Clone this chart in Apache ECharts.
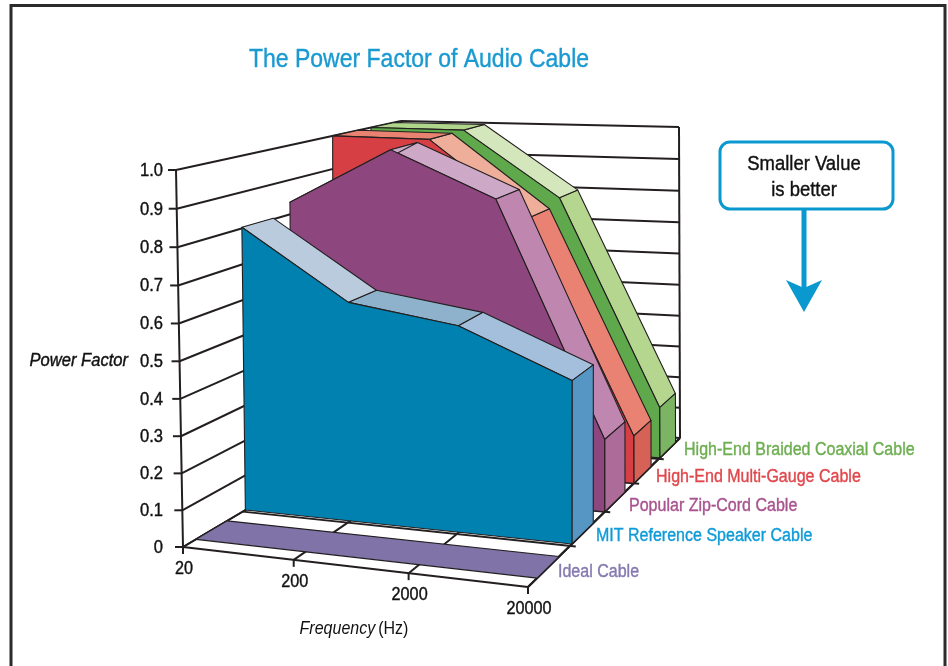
<!DOCTYPE html>
<html>
<head>
<meta charset="utf-8">
<style>html,body{margin:0;padding:0;background:#fff}#main{width:948px;height:666px}</style>
<script src="https://cdn.jsdelivr.net/npm/echarts@6/dist/echarts.min.js"></script>
</head>
<body>
<div id="main"></div>
<script>
var frequencies = ["20", "200", "2000", "20000"];
var valueTicks = ["0", "0.1", "0.2", "0.3", "0.4", "0.5", "0.6", "0.7", "0.8", "0.9", "1.0"];
var cableNames = ["Ideal Cable", "MIT Reference Speaker Cable", "Popular Zip-Cord Cable", "High-End Multi-Gauge Cable", "High-End Braided Coaxial Cable"];
var idealCable = [0, 0, 0, 0];
var mitCable = [0.803, 0.615, 0.573, 0.448];
var zipCordCable = [0.835, 1.0, 0.875, 0.21];
var multiGaugeCable = [1.0, 1.0, 0.78, 0.144];
var braidedCable = [1.0, 1.0, 0.8, 0.16];
var cableValues = [idealCable, mitCable, zipCordCable, multiGaugeCable, braidedCable];

// colours and placing of every slab, same order as cableNames
var labelColors = ["#8579B0", "#0F9BD7", "#A8538F", "#E0474C", "#6DAE51"];
var labelPos = [[558, 572], [596, 536], [629, 506], [656, 477], [684, 450]];
var slabDepth = [[0.2, 0.72], [1.05, 1.65], [2, 2.68], [3, 3.68], [4.05, 4.78]];
var faceColors = ["#7F73A8", "#0081B0", "#8E477E", "#D64045", "#5FA84B"];
var sideColors = ["#7F73A8", "#5696C4", "#AC6B98", "#D56157", "#7BB564"];
var topColors = [
	["#7F73A8", "#7F73A8", "#7F73A8"],
	["#B9CBDD", "#8FB2CC", "#A3BFDB"],
	["#CDA9C7", "#CDA9C7", "#BF86B0"],
	["#E98271", "#EEAE9A", "#E98272"],
	["#AFD68A", "#D4E6BC", "#B5D68F"]
];

var INK = "#231F20";
var FONT = "'Liberation Sans', sans-serif";

// corners of the 3D box on the page (floor / top, front / back)
var floorFL = [183, 547], floorFR = [528, 587], floorBL = [399, 419], floorBR = [680, 438];
var topFL = [176, 170], topFR = [529, 192], topBL = [401, 121], topBR = [679, 127];

function lerp(a, b, t) {
	return [a[0] + (b[0] - a[0]) * t, a[1] + (b[1] - a[1]) * t];
}
// frequency index 0..3, depth 0..5 (one unit per cable), value 0..1
function project(f, d, z) {
	var t = f / 3;
	var u = t * 0.945 / (1 - 0.055 * t);
	var v = d * 0.3055 / (1 + 0.1055 * d);
	var low = lerp(lerp(floorFL, floorFR, u), lerp(floorBL, floorBR, u), v);
	var high = lerp(lerp(topFL, topFR, u), lerp(topBL, topBR, u), v);
	return lerp(low, high, z / (1 + 0.03 * (1 - z)));
}
function line(a, b, w) {
	return {type: "line", shape: {x1: a[0], y1: a[1], x2: b[0], y2: b[1]}, style: {stroke: INK, lineWidth: w || 2}};
}
function poly(pts, fill) {
	return {type: "polygon", shape: {points: pts}, style: {fill: fill, stroke: INK, lineWidth: 1.1, lineJoin: "round"}};
}
// condensed look: the fonts here are wider than the original, so squeeze them
function label(x, y, text, size, squeeze, color, align, italic) {
	return {type: "text", x: x, y: y, scaleX: squeeze, style: {
		x: 0, y: 0, text: text, fill: color || "#111", stroke: color || "#111", lineWidth: 0.4,
		fontSize: size, fontStyle: italic ? "italic" : "normal", fontFamily: FONT,
		align: align || "center", verticalAlign: "middle"
	}};
}

// walls, floor grid, ticks
function renderValueTick(params, api) {
	var i = api.value(0), z = i / 10;
	var a = project(0, 0, z), b = project(0, 5, z), c = project(3, 5, z);
	return {type: "group", children: [
		line(a, b), line(b, c),
		line([a[0] - 8, a[1]], a, 2),
		label(163, a[1] + 1, valueTicks[i], 18, 0.92, "#111", "right")
	]};
}
function renderFreqTick(params, api) {
	var i = api.value(0);
	var a = project(i, 0, 0), b = project(i, 5, 0);
	return {type: "group", children: [
		line(a, b), line(a, [a[0], a[1] + 7]),
		label(a[0] + 1, a[1] + 22, frequencies[i], 18, 0.9)
	]};
}
function renderDepthTick(params, api) {
	var d = api.value(0);
	return line(project(0, d, 0), project(3.05, d, 0));
}
function renderFrame() {
	return {type: "group", children: [
		line(project(0, 0, 0), project(0, 0, 1), 2),
		line(project(0, 5, 0), project(0, 5, 1)),
		line(project(3, 5, 0), project(3, 5, 1), 2),
		line(project(3, 0, 0), project(3, 5, 0), 2),
		line(project(0, 0, 0), project(3, 0, 0), 2)
	]};
}

function renderSlab(params, api) {
	var c = api.value(0);
	var vals = cableValues[c];
	var d0 = slabDepth[c][0], d1 = slabDepth[c][1];
	var kids = [];
	if (c == 0) {
		kids.push(poly([project(0, d0, vals[0]), project(3, d0, vals[3]), project(3, d1, vals[3]), project(0, d1, vals[0])], faceColors[c]));
	} else {
		for (var i = 2; i >= 0; i--) {
			kids.push(poly([project(i, d0, vals[i]), project(i + 1, d0, vals[i + 1]), project(i + 1, d1, vals[i + 1]), project(i, d1, vals[i])], topColors[c][i]));
		}
		kids.push(poly([project(3, d0, vals[3]), project(3, d1, vals[3]), project(3, d1, 0), project(3, d0, 0)], sideColors[c]));
		var front = [project(0, d0, 0)];
		for (var j = 0; j < 4; j++) front.push(project(j, d0, vals[j]));
		front.push(project(3, d0, 0));
		kids.push(poly(front, faceColors[c]));
	}
	kids.push(label(labelPos[c][0], labelPos[c][1], cableNames[c], 18, 0.89, labelColors[c], "left"));
	return {type: "group", children: kids};
}

var series = [
	{type: "custom", coordinateSystem: "none", renderItem: renderValueTick, data: valueTicks.map(function (t, i) { return [i]; })},
	{type: "custom", coordinateSystem: "none", renderItem: renderFreqTick, data: frequencies.map(function (t, i) { return [i]; })},
	{type: "custom", coordinateSystem: "none", renderItem: renderDepthTick, data: [[1], [2], [3], [4]]},
	{type: "custom", coordinateSystem: "none", renderItem: renderFrame, data: [[0]]}
];
for (var c = 4; c >= 0; c--) {
	series.push({name: cableNames[c], type: "custom", coordinateSystem: "none", renderItem: renderSlab, data: [[c]]});
}

var myChart = echarts.init(document.getElementById("main"), null, {renderer: "canvas"});
myChart.setOption({
	backgroundColor: "#fff",
	animation: false,
	graphic: [
		{type: "polyline", shape: {points: [[11, 670], [11, 5.5], [945, 5.5], [945, 670]]}, style: {fill: null, stroke: "#2b2b2b", lineWidth: 3}},
		label(419, 60, "The Power Factor of Audio Cable", 26.5, 0.868, "#1A9AD0"),
		{type: "rect", shape: {x: 720, y: 142, width: 173, height: 67, r: 10}, style: {fill: "#fff", stroke: "#0A99CF", lineWidth: 3}},
		label(804, 164, "Smaller Value", 20.5, 0.9),
		label(804, 190, "is better", 20.5, 0.9),
		{type: "line", shape: {x1: 804, y1: 209, x2: 804, y2: 290}, style: {stroke: "#0A99CF", lineWidth: 5}},
		{type: "polygon", shape: {points: [[786, 280], [804, 288], [822, 280], [804, 312]]}, style: {fill: "#0A99CF"}},
		label(128, 361, "Power Factor", 18, 0.92, "#111", "right", true),
		{type: "text", x: 354, y: 629, scaleX: 0.89, style: {x: 0, y: 0, text: "{i|Frequency} {n|(Hz)}", align: "center", verticalAlign: "middle", rich: {
			i: {fontSize: 18, fontStyle: "italic", fontFamily: FONT, fill: "#111"},
			n: {fontSize: 18, fontFamily: FONT, fill: "#111"}
		}}}
	],
	series: series
});
</script>
</body>
</html>
